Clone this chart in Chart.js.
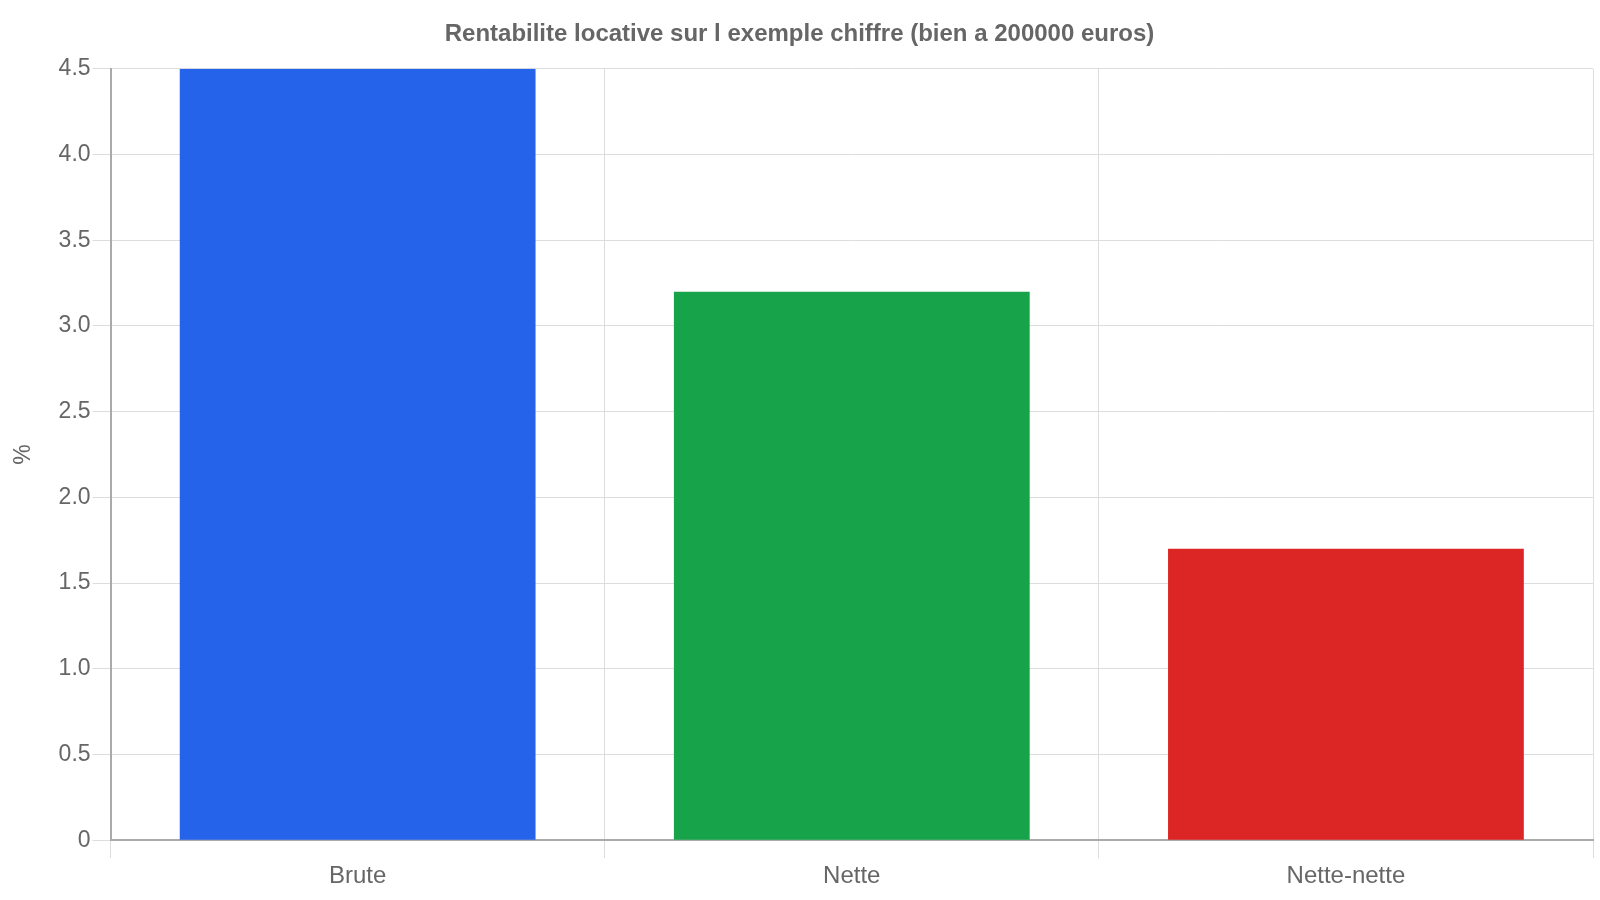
<!DOCTYPE html>
<html>
<head>
<meta charset="utf-8">
<script src="https://cdn.jsdelivr.net/npm/chart.js@4"></script>
<style>
  html, body { margin: 0; padding: 0; background: #fff; }
  #wrap { width: 1600px; height: 900px; position: relative; }
</style>
</head>
<body>
<div id="wrap"><canvas id="rentaChart"></canvas></div>
<script>
const categories = ['Brute', 'Nette', 'Nette-nette']
const rendement = [4.5, 3.2, 1.7]
const barColors = ['#2563eb', '#16a34a', '#dc2626']

Chart.defaults.font.family = '"Liberation Sans", Arial, sans-serif'
Chart.defaults.color = '#666'

const ctx = document.getElementById('rentaChart')
new Chart(ctx, {
  type: 'bar',
  data: {
    labels: categories,
    datasets: [{
      label: 'Rentabilite',
      data: rendement,
      backgroundColor: barColors
    }]
  },
  options: {
    responsive: true,
    maintainAspectRatio: false,
    animation: false,
    layout: { padding: { left: 6, right: 7, top: 14, bottom: 5 } },
    plugins: {
      legend: { display: false },
      title: {
        display: true,
        text: 'Rentabilite locative sur l exemple chiffre (bien a 200000 euros)',
        color: '#666',
        font: { size: 24, weight: 'bold' },
        padding: { top: 6, bottom: 20 }
      }
    },
    scales: {
      x: {
        grid: { offset: true, color: '#ddd', tickLength: 18 },
        border: { color: '#aaa', width: 2 },
        ticks: { font: { size: 24 }, padding: 4 }
      },
      y: {
        min: 0,
        max: 4.5,
        grid: { color: '#ddd', tickLength: 18 },
        border: { color: '#aaa', width: 2 },
        ticks: {
          stepSize: 0.5,
          font: { size: 23 },
          padding: 2,
          callback: v => v === 0 ? '0' : v.toFixed(1)
        },
        title: { display: true, text: '%', font: { size: 23 }, padding: { top: 4, bottom: 19 } }
      }
    }
  }
})
</script>
</body>
</html>
